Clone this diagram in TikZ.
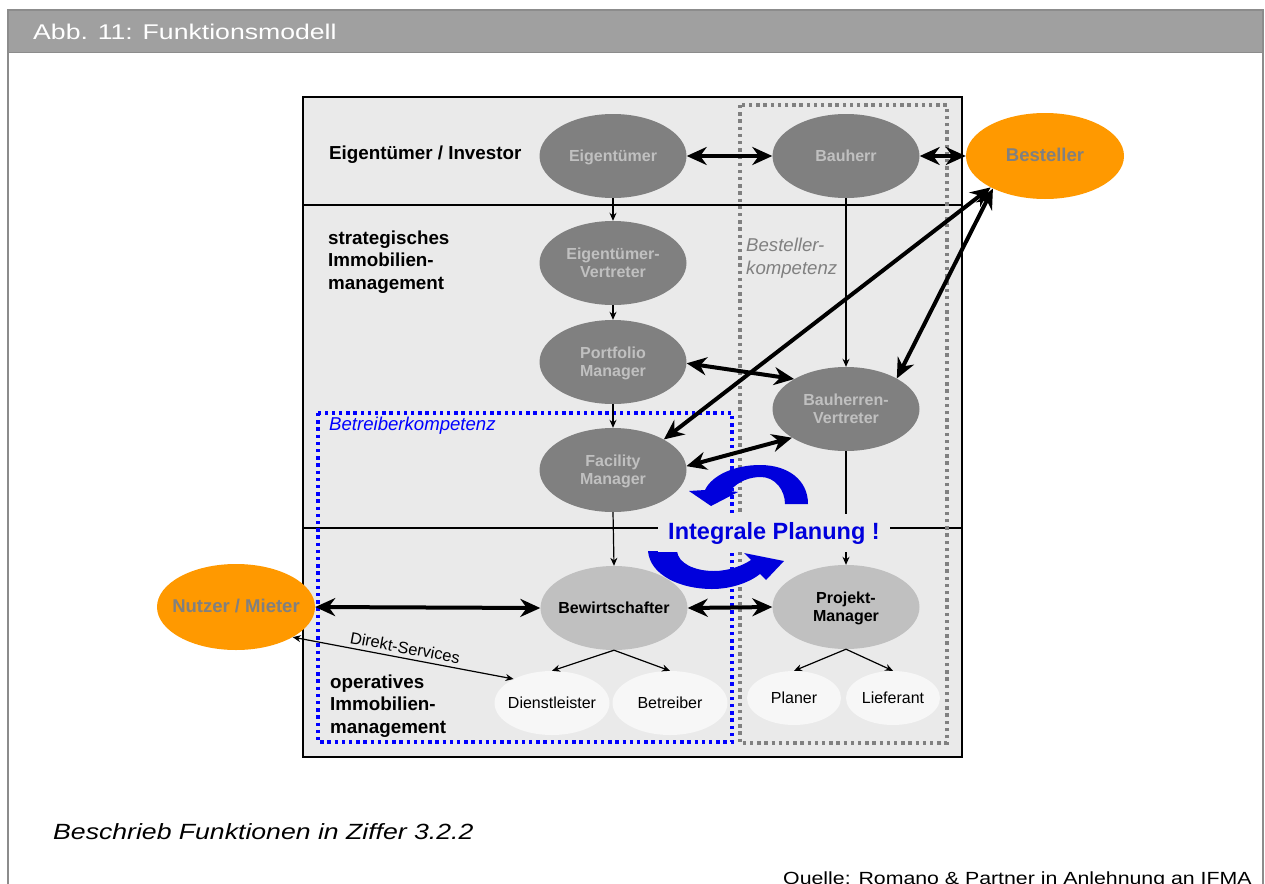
\documentclass[tikz,border=0pt]{standalone}
\usepackage{fontspec}
\setmainfont{Liberation Sans}
\newfontfamily\titlefont[FakeStretch=1.25]{Liberation Sans}
\newfontfamily\notefont[FakeStretch=1.21]{Liberation Sans}
\usetikzlibrary{shapes.geometric,arrows.meta}
\definecolor{boxgray}{HTML}{EAEAEA}
\definecolor{darkell}{HTML}{808080}
\definecolor{lightell}{HTML}{C0C0C0}
\definecolor{paleell}{HTML}{F7F7F7}
\definecolor{orangeell}{HTML}{FF9900}
\definecolor{framegray}{HTML}{8C8C8C}
\definecolor{bargray}{HTML}{A0A0A0}
\definecolor{arrowblue}{RGB}{0,0,220}
\definecolor{dotblue}{RGB}{0,0,255}
% text of zero size, so that the ellipse keeps its set size and the letters sit centred
\newcommand\elltext[1]{\raisebox{-6pt}[0pt][0pt]{\makebox[0pt]{\begin{tabular}{@{}c@{}}#1\end{tabular}}}}
\begin{document}
\begin{tikzpicture}[x=1pt,y=-1pt,
  role/.style={ellipse, inner sep=0pt, minimum width=147pt, minimum height=84pt,
    font=\fontsize{16}{18.5}\selectfont\bfseries},
  darkrole/.style={role, fill=darkell, text=lightell},
  midrole/.style={role, fill=lightell, text=black},
  leaf/.style={ellipse, inner sep=0pt, fill=paleell, minimum width=115pt,
    minimum height=64pt, font=\fontsize{16}{18}\selectfont},
  smallleaf/.style={leaf, minimum width=94pt, minimum height=54pt},
  extrole/.style={ellipse, inner sep=0pt, fill=orangeell, text=darkell,
    minimum width=158pt, minimum height=86pt, font=\fontsize{18.5}{20}\selectfont\bfseries},
  levellabel/.style={anchor=west, align=left, inner sep=0pt,
    font=\fontsize{18.8}{22.5}\selectfont\bfseries},
  competence/.style={anchor=west, align=left, inner sep=0pt,
    font=\fontsize{18.6}{23}\selectfont\itshape},
  biarrow/.style={line width=4pt,
    {Stealth[length=20pt,width=18pt]}-{Stealth[length=20pt,width=18pt]}},
  flow/.style={line width=1.2pt, -{Stealth[length=8pt,width=7pt]}},
  thinbi/.style={line width=1.2pt,
    {Stealth[length=8pt,width=7pt]}-{Stealth[length=8pt,width=7pt]}},
  dotbox/.style={line width=3.4pt, dash pattern=on 3.4pt off 3.8pt},
]
\useasboundingbox (0,0) rectangle (1265,883);
\clip (0,0) rectangle (1265,883);

% page frame and title bar
\fill[bargray] (8,10) rectangle (1263,53);
\draw[framegray, line width=2pt] (8,890) -- (8,10) -- (1263,10) -- (1263,890);
\draw[framegray, line width=1pt] (8,53) -- (1263,53);
\node[anchor=west, text=white, inner sep=0pt,
  font=\titlefont\fontsize{21.3}{22}\selectfont] (title) at (33,32) {Abb. 11: Funktionsmodell};

% model area with its three levels
\draw[fill=boxgray, line width=2.4pt] (303,97) rectangle (962,757);
\draw[line width=2pt] (303,205) -- (962,205);
\draw[line width=2pt] (303,528) -- (962,528);

% competence areas
\draw[dotbox, draw=darkell] (740,105) rectangle (947,743);
\draw[dotbox, draw=dotblue] (318,413) rectangle (732,742);

% level labels
\node[levellabel] (lvl1) at (329,155) {Eigentümer / Investor};
\node[levellabel] (lvl2) at (328,262) {strategisches\\Immobilien-\\management};
\node[levellabel] (lvl3) at (330,706) {operatives\\Immobilien-\\management};
\node[competence, text=dotblue] (betr) at (329,426) {Betreiberkompetenz};
\node[competence, text=darkell] (best) at (746,258) {Besteller-\\kompetenz};

% roles
\node[darkrole] (eig) at (613,156) {\elltext{Eigentümer}};
\node[darkrole] (bh)  at (846,156) {\elltext{Bauherr}};
\node[darkrole] (ev)  at (613,263) {\elltext{Eigentümer-\\Vertreter}};
\node[darkrole] (pf)  at (613,362) {\elltext{Portfolio\\Manager}};
\node[darkrole] (fm)  at (613,470) {\elltext{Facility\\Manager}};
\node[darkrole] (bv)  at (846,409) {\elltext{Bauherren-\\Vertreter}};
\node[midrole]  (bew) at (614,608) {\elltext{Bewirtschafter}};
\node[midrole]  (pm)  at (846,607) {\elltext{Projekt-\\Manager}};
\node[leaf] (dl)  at (552,703) {\elltext{Dienstleister}};
\node[leaf] (btr) at (670,703) {\elltext{Betreiber}};
\node[smallleaf] (pl) at (794,698) {\elltext{Planer}};
\node[smallleaf] (lf) at (893,698) {\elltext{Lieferant}};
\node[extrole] (bes) at (1045,156) {\elltext{Besteller}};
\node[extrole] (nut) at (236,607) {\elltext{Nutzer / Mieter}};

% hierarchy
\draw[flow] (eig.south) -- (ev.north);
\draw[flow] (ev.south) -- (pf.north);
\draw[flow] (pf.south) -- (fm.north);
\draw[flow] (fm.south) -- (bew.north);
\draw[flow] (bh.south) -- (bv.north);
\draw[flow] (bv.south) -- (pm.north);
\draw[flow] (bew.south) -- (dl.north);
\draw[flow] (bew.south) -- (btr.north);
\draw[flow] (pm.south) -- (pl.north);
\draw[flow] (pm.south) -- (lf.north);
\draw[thinbi] (nut.332) -- node[midway, above, sloped, inner sep=4pt,
  font=\fontsize{16.4}{18}\selectfont] (ds) {Direkt-Services} (dl.148);

% interfaces
\draw[biarrow] (eig.east) -- (bh.west);
\draw[biarrow] (bh.east) -- (bes.west);
\draw[biarrow] (bes.210) -- (fm.31);
\draw[biarrow] (bes.212) -- (bv.31);
\draw[biarrow] (pf.359) -- (bv.150);
\draw[biarrow] (fm.3) -- (bv.208);
\draw[biarrow] (nut.east) -- (bew.west);
\draw[biarrow] (bew.east) -- (pm.west);

% circular arrows of the integrated planning
\fill[arrowblue] (808,504) .. controls (808,480) and (788,465) .. (760,465)
  .. controls (735,465) and (712,475) .. (705,490) -- (689,491) -- (711,506)
  -- (738,492) -- (730,491) .. controls (738,481) and (750,477) .. (761,477)
  .. controls (775,477) and (785,490) .. (785,504) -- cycle;
\fill[arrowblue] (648,551) .. controls (650,575) and (680,589) .. (712,589)
  .. controls (732,589) and (750,582) .. (760,574) -- (766,580) -- (784,561)
  -- (744,553) -- (751,560) .. controls (742,566) and (728,571) .. (714,571)
  .. controls (694,571) and (678,563) .. (677,551) -- cycle;
\node[fill=boxgray, text=arrowblue, inner xsep=10pt, inner ysep=8pt,
  font=\fontsize{23.5}{25}\selectfont\bfseries] (ip) at (774,533) {Integrale Planung !};

% notes below
\node[anchor=base west, inner sep=0pt, font=\notefont\itshape\fontsize{22}{24}\selectfont]
  (note) at (53,839) {Beschrieb Funktionen in Ziffer 3.2.2};
\node[anchor=base west, inner sep=0pt, font=\notefont\fontsize{17.6}{20}\selectfont]
  (src) at (783,884) {Quelle: Romano \& Partner in Anlehnung an IFMA};
\end{tikzpicture}
\end{document}
